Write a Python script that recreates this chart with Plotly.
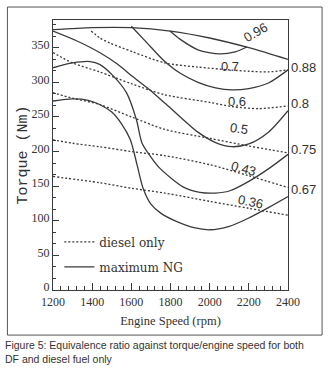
import plotly.graph_objects as go

# ---------------- data ----------------
# maximum NG (solid) curves
top_x = [1200, 1400, 1600, 1800, 2000, 2200, 2400]
top_y = [376, 379, 379, 374, 364, 350, 333]

ng096_x = [1797, 1850, 1940, 2052, 2130, 2190]
ng096_y = [374, 362, 347, 341, 344, 351]

ng07_x = [1600, 1680, 1760, 1850, 1940, 2030, 2114, 2200, 2300, 2400]
ng07_y = [381, 357, 333, 313, 300, 292, 289, 291, 299, 318]

ng05_x = [1200, 1320, 1438, 1530, 1608, 1690, 1771, 1850, 1940, 2030, 2114, 2200, 2300, 2400]
ng05_y = [374, 360, 343, 326, 308, 290, 270, 250, 228, 213, 207, 211, 228, 259]

ng043_x = [1200, 1300, 1390, 1438, 1505, 1575, 1626, 1655, 1700, 1745, 1864, 1950, 2030, 2100, 2200, 2300, 2400]
ng043_y = [321, 328, 330, 326, 310, 285, 246, 212, 192, 176, 149, 141, 140, 143, 157, 175, 196]

ng036_x = [1200, 1300, 1380, 1438, 1500, 1550, 1595, 1630, 1660, 1700, 1750, 1830, 1920, 2000, 2100, 2200, 2300, 2400]
ng036_y = [273, 276, 274, 268, 257, 240, 217, 180, 147, 124, 111, 99, 90, 87, 92, 104, 119, 135]

# diesel only (dotted) lines
d088_x = [1395, 1440, 1489, 1608, 1771, 1940, 2100, 2200, 2300, 2400]
d088_y = [374, 364, 357, 344, 328, 322, 318, 316, 315, 318]

d08_x = [1200, 1300, 1438, 1600, 1771, 2000, 2114, 2250, 2400]
d08_y = [343, 328, 315, 298, 282, 271, 265, 262, 266]

d075_x = [1200, 1300, 1438, 1600, 1771, 2001, 2200, 2300, 2400]
d075_y = [285, 277, 268, 250, 232, 219, 208, 203, 198]

d067_x = [1200, 1300, 1438, 1600, 1771, 2001, 2200, 2400]
d067_y = [217, 212, 207, 200, 194, 181, 165, 148]

dlow_x = [1200, 1438, 1600, 1771, 2001, 2200, 2400]
dlow_y = [164, 155, 147, 140, 128, 118, 108]

# contour labels
inner_labels = ["0.96", "0.7", "0.6", "0.5", "0.43", "0.36"]
inner_x = [2232, 2103, 2138, 2150, 2172, 2206]
inner_y = [372, 323, 272, 234, 176, 128]
inner_angle = [-30, 0, 0, 8, 15, 12]

right_labels = ["0.88", "0.8", "0.75", "0.67"]
right_y = [321, 270, 203, 145]

x_ticks = [1200, 1400, 1600, 1800, 2000, 2200, 2400]
y_ticks = [0, 50, 100, 150, 200, 250, 300, 350]

# ---------------- figure ----------------
LINE = "#3a3a3a"
TXT = "#333333"
fig = go.Figure()

dotted = [(d088_x, d088_y), (d08_x, d08_y), (d075_x, d075_y), (d067_x, d067_y), (dlow_x, dlow_y)]
for i, (xs, ys) in enumerate(dotted):
    fig.add_trace(go.Scatter(
        x=xs, y=ys, mode="lines",
        line=dict(color=LINE, width=1.3, dash="2px,2px", shape="spline", smoothing=0.8),
        name="diesel only", showlegend=(i == 0), legendgroup="a", hoverinfo="skip"))

solid = [(top_x, top_y), (ng096_x, ng096_y), (ng07_x, ng07_y), (ng05_x, ng05_y), (ng043_x, ng043_y), (ng036_x, ng036_y)]
for i, (xs, ys) in enumerate(solid):
    fig.add_trace(go.Scatter(
        x=xs, y=ys, mode="lines", line=dict(color=LINE, width=1.3, shape="spline", smoothing=0.8),
        name="maximum NG", showlegend=(i == 0), legendgroup="b", hoverinfo="skip"))

annotations = []
for t, x, y, a in zip(inner_labels, inner_x, inner_y, inner_angle):
    annotations.append(dict(x=x, y=y, xref="x", yref="y", text=t, showarrow=False, textangle=a,
                            font=dict(family="Liberation Sans", size=13, color=TXT)))
for t, y in zip(right_labels, right_y):
    annotations.append(dict(x=1.006, y=y, xref="paper", yref="y", text=t, showarrow=False, xanchor="left",
                            font=dict(family="Liberation Sans", size=13, color=TXT)))
annotations.append(dict(
    x=-0.213, y=-0.174, xref="paper", yref="paper", xanchor="left", yanchor="top", align="left",
    text="Figure 5: Equivalence ratio against torque/engine speed for both<br>DF and diesel fuel only",
    showarrow=False, font=dict(family="Liberation Sans", size=10.5, color=TXT)))

tickfont = dict(family="Liberation Serif", size=12, color=TXT)
fig.update_layout(
    width=330, height=368,
    margin=dict(l=53, r=42, t=20, b=78),
    paper_bgcolor="white", plot_bgcolor="white",
    xaxis=dict(range=[1200, 2400], tickvals=x_ticks, ticktext=[str(v) for v in x_ticks],
               ticks="inside", ticklen=7, tickcolor=LINE, showline=True, linecolor=LINE, linewidth=1.2,
               mirror=True, showgrid=False, zeroline=False, tickfont=tickfont,
               minor=dict(dtick=40, tick0=1200, ticks="inside", ticklen=4, tickcolor=LINE, showgrid=False),
               title=dict(text="Engine Speed (rpm)", font=dict(family="Liberation Serif", size=12.5, color=TXT),
                          standoff=8)),
    yaxis=dict(range=[0, 390], tickvals=y_ticks, ticks="inside", ticklen=6, tickcolor=LINE,
               showline=True, linecolor=LINE, linewidth=1.2, mirror=True, showgrid=False, zeroline=False,
               tickfont=tickfont, ticklabelshift=-3,
               minor=dict(dtick=50 / 3, tick0=0, ticks="inside", ticklen=3, tickcolor=LINE, showgrid=False),
               title=dict(text="Torque (Nm)", font=dict(family="Liberation Mono", size=15, color=TXT),
                          standoff=0)),
    legend=dict(x=0.027, y=0.232, xanchor="left", yanchor="top", bgcolor="rgba(0,0,0,0)",
                font=dict(family="DejaVu Serif", size=12, color=TXT), itemwidth=30, tracegroupgap=6),
    annotations=annotations,
    shapes=[dict(type="rect", xref="paper", yref="paper", x0=-0.194, x1=1.145, y0=-0.167, y1=1.048,
                 line=dict(color="#555555", width=1))],
)

fig.write_html("out.html", config={"displayModeBar": False},
               post_script="document.body.style.margin='0px';")
